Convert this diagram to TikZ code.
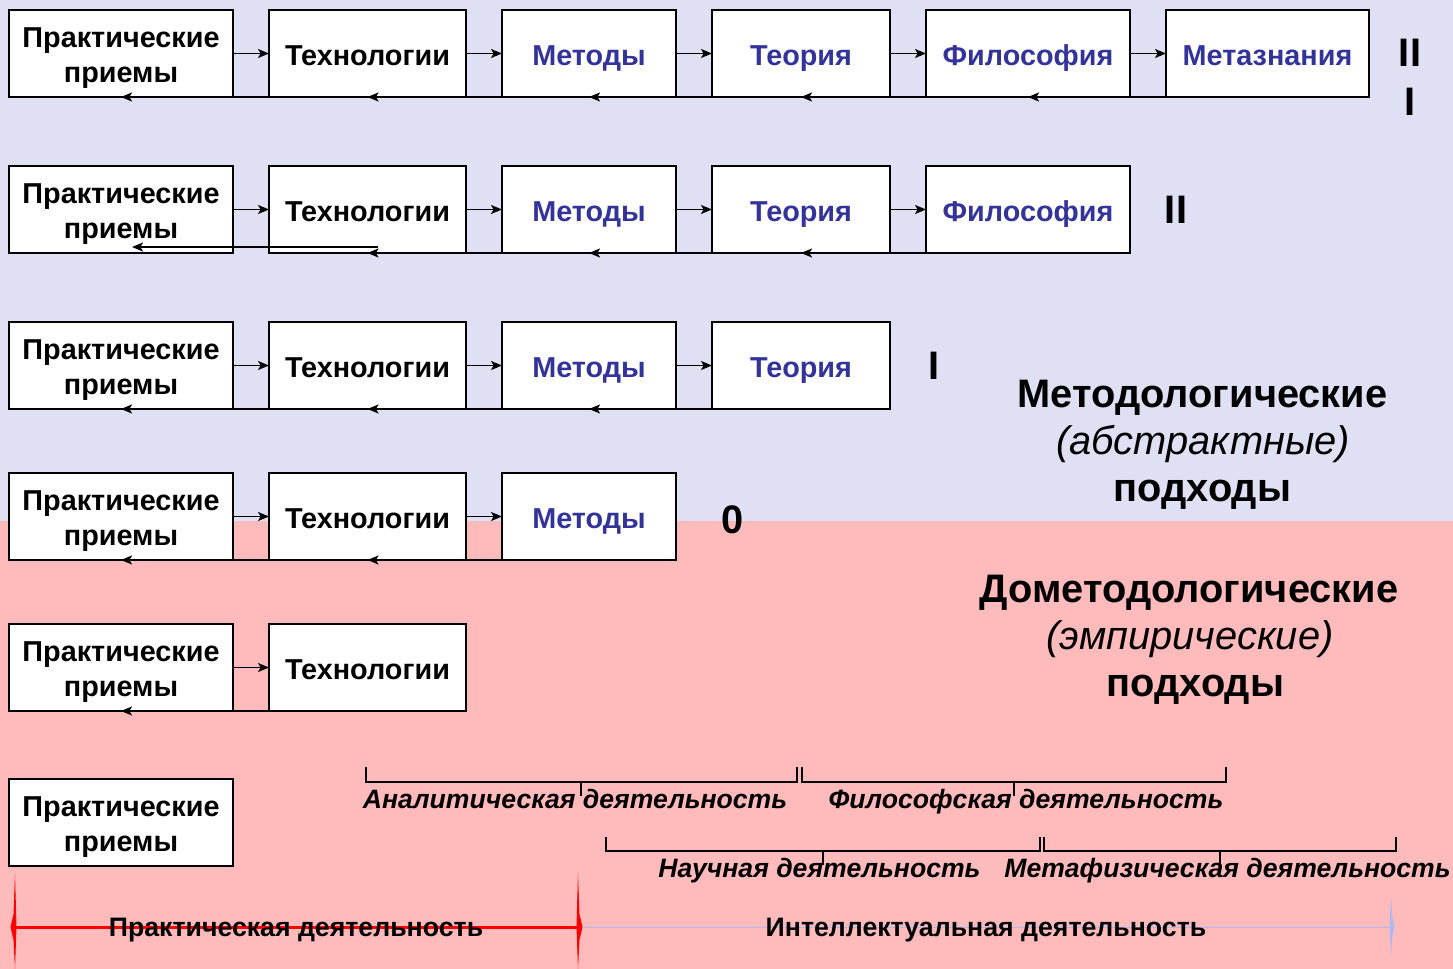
\documentclass[tikz,border=0pt]{standalone}
\usepackage{fontspec}
\setmainfont{Liberation Sans}
\usetikzlibrary{arrows.meta}
\definecolor{bgtop}{RGB}{224,224,245}
\definecolor{bgbot}{RGB}{255,187,187}
\definecolor{tblue}{RGB}{51,51,153}
\definecolor{lav}{RGB}{176,184,240}
\definecolor{spred}{RGB}{255,0,0}
\expandafter\def\csname txt1\endcsname{\rule{0pt}{14.5pt}Практические\\приемы}
\expandafter\def\csname txt2\endcsname{Технологии}
\expandafter\def\csname txt3\endcsname{Методы}
\expandafter\def\csname txt4\endcsname{Теория}
\expandafter\def\csname txt5\endcsname{Философия}
\expandafter\def\csname txt6\endcsname{Метазнания}
\newcommand\boxfont{\fontsize{14.4pt}{17.5pt}\selectfont\bfseries}
\newcommand\bigfont{\fontsize{19.9pt}{24pt}\selectfont}
\newcommand\brfont{\fontsize{13.3pt}{16pt}\selectfont\bfseries\itshape}
\newcommand\botfont{\fontsize{13.35pt}{16pt}\selectfont\bfseries}
\tikzset{
  box/.style={draw=black, line width=1pt, fill=white, minimum height=43.5pt,
    inner sep=0pt, outer sep=0pt, align=center, font=\boxfont},
  single/.style={text height=11.5pt, text depth=0pt},
  fwd/.style={-{Stealth[length=5.5pt,width=4.5pt,inset=1.3pt]}, line width=0.7pt},
  back/.style={-{Stealth[length=5.5pt,width=4.5pt,inset=1.3pt]}, line width=1pt},
  bigbold/.style={font=\bigfont\bfseries, anchor=base, inner sep=0pt},
  bigit/.style={font=\bigfont\itshape, anchor=base, inner sep=0pt},
  brlabel/.style={font=\brfont, anchor=base, inner sep=0pt},
  botlabel/.style={font=\botfont, anchor=base, inner sep=0pt},
  bracket/.style={line width=1pt, line cap=rect},
}
\begin{document}
\begin{tikzpicture}[x=0.5pt, y=-0.5pt]
\useasboundingbox (0,0) rectangle (1453,969);
\fill[bgtop] (0,0) rectangle (1453,521);
\fill[bgbot] (0,521) rectangle (1453,969);

% boxes
\foreach \r/\y/\n in {1/53.5/6,2/209.5/5,3/365.5/4,4/516.5/3,5/667.5/2,6/822.5/1}{
  \foreach \c in {1,...,\n}{
    \pgfmathsetmacro\cx{{121,367.5,589,801,1028,1267.5}[\c-1]}
    \pgfmathsetmacro\cw{{112,98.5,87,89,102,101.5}[\c-1]}
    \ifnum\c=1
      \tikzset{cur/.style={}}
    \else\ifnum\c=2
      \tikzset{cur/.style={single}}
    \else
      \tikzset{cur/.style={single,text=tblue}}
    \fi\fi
    \node[box, cur, minimum width=\cw pt] (b\r-\c) at (\cx,\y) {\csname txt\c\endcsname};
  }
}

% forward and return arrows
\foreach \r/\n in {1/6,2/5,3/4,4/3,5/2}{
  \foreach \c in {2,...,\n}{
    \pgfmathtruncatemacro\p{\c-1}
    \draw[fwd] (b\r-\p.east) -- (b\r-\c.west);
    \pgfmathtruncatemacro\sk{(\r==2)&&(\c==2)}
    \ifnum\sk=0
      \draw[back] (b\r-\c.south) -- (b\r-\p.south);
    \fi
  }
}
\draw[back] ([xshift=5.25pt,yshift=3pt]b2-2.south) -- ([xshift=5.5pt,yshift=3pt]b2-1.south);

% level numerals
\node[bigbold] (lv3a) at (1410,67) {II};
\node[bigbold] (lv3b) at (1410,115) {I};
\node[bigbold] (lv2) at (1176,223.5) {II};
\node[bigbold] (lv1) at (934,379.5) {I};
\node[bigbold] (lv0) at (733,533) {0};

% approach labels
\node[bigbold] (m1) at (1202.5,407) {Методологические};
\node[bigit] (m2) at (1203,454) {(абстрактные)};
\node[bigbold] (m3) at (1202.5,501) {подходы};
\node[bigbold] (d1) at (1189,602) {Дометодологические};
\node[bigit] (d2) at (1190,649) {(эмпирические)};
\node[bigbold] (d3) at (1195.5,696) {подходы};

% brackets
\draw[bracket] (366,768) -- (366,782) -- (797,782) -- (797,768);
\draw[bracket] (581,782) -- (581,795);
\draw[bracket] (802,768) -- (802,782) -- (1226,782) -- (1226,768);
\draw[bracket] (1014,782) -- (1014,795);
\draw[bracket] (606,838) -- (606,851) -- (1040,851) -- (1040,838);
\draw[bracket] (823,851) -- (823,864);
\draw[bracket] (1044,838) -- (1044,851) -- (1396,851) -- (1396,838);
\draw[bracket] (1220,851) -- (1220,864);
\node[brlabel] (la) at (575,808) {Аналитическая деятельность};
\node[brlabel] (lf) at (1026,808) {Философская деятельность};
\node[brlabel] (ln) at (819.5,877) {Научная деятельность};
\node[brlabel] (lm) at (1227.5,877) {Метафизическая деятельность};

% bottom scale
\draw[lav, line width=0.5pt] (580,927) -- (1392,927);
\draw[spred, line width=1.5pt] (14,927) -- (578,927);
\fill[spred] (15,873) -- (16.5,927) -- (15,969) -- (13.5,940) -- (10.5,927) -- (13.5,914) -- cycle;
\fill[spred] (578,873) -- (579.5,914) -- (582.5,927) -- (579.5,940) -- (578,969) -- (576.5,927) -- cycle;
\fill[lav] (1391,897) -- (1392.5,918) -- (1394.5,927) -- (1392.5,936) -- (1391,955) -- (1389.5,927) -- cycle;
\node[botlabel] (pa) at (296,936) {Практическая деятельность};
\node[botlabel] (ia) at (986,936) {Интеллектуальная деятельность};
\end{tikzpicture}
\end{document}
